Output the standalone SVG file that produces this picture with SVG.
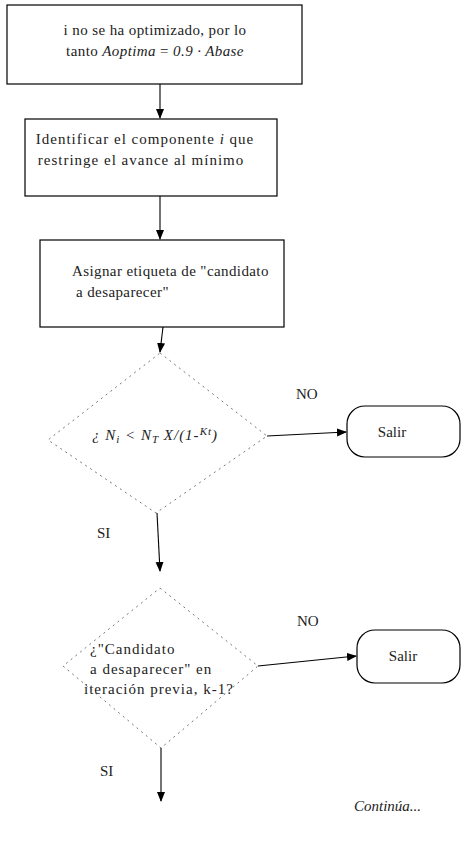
<svg xmlns="http://www.w3.org/2000/svg" width="470" height="841" viewBox="0 0 470 841">
<defs>
<marker id="ah" markerWidth="10" markerHeight="10" refX="9" refY="5" orient="auto" markerUnits="userSpaceOnUse">
<path d="M0,1 L10,5 L0,9 z" fill="#000"/>
</marker>
<style>
.box{fill:#fff;stroke:#000;stroke-width:1.2}
.dia{fill:none;stroke:#777;stroke-width:1;stroke-dasharray:2 4}
text{font-family:'Liberation Serif','Times New Roman','DejaVu Serif',serif;font-size:15px;fill:#222}
.i{font-style:italic}
.c{stroke:#000;stroke-width:1.1;fill:none;marker-end:url(#ah)}
</style>
</defs>
<rect width="470" height="841" fill="#fff"/>
<g id="n1">
<rect class="box" x="7" y="5" width="295" height="79"/>
<text x="155" y="35" text-anchor="middle" letter-spacing="0.4">i no se ha optimizado, por lo</text>
<text x="155" y="56" text-anchor="middle" letter-spacing="0.4">tanto <tspan class="i">Aoptima</tspan> = <tspan class="i">0.9 · Abase</tspan></text>
</g>
<g id="n2">
<rect class="box" x="25" y="119" width="252" height="77"/>
<text x="145" y="144" text-anchor="middle" font-size="16" letter-spacing="1">Identificar el componente <tspan class="i">i</tspan> que</text>
<text x="141" y="165" text-anchor="middle" font-size="16" letter-spacing="1">restringe el avance al mínimo</text>
</g>
<g id="n3">
<rect class="box" x="40" y="240" width="244" height="87"/>
<text x="72" y="276" letter-spacing="0.4">Asignar etiqueta de "candidato</text>
<text x="76" y="297" letter-spacing="0.4">a desaparecer"</text>
</g>
<g id="d1">
<polygon class="dia" points="160,353 267,436 156,513 48,440"/>
<text class="i" x="155" y="440" text-anchor="middle" font-size="16" letter-spacing="1">¿ N<tspan font-size="11" dy="3">i</tspan><tspan dy="-3"> &lt; N</tspan><tspan font-size="11" dy="3">T</tspan><tspan dy="-3"> X/(1-</tspan><tspan font-size="11" dy="-5">Kt</tspan><tspan dy="5">)</tspan></text>
</g>
<g id="s1">
<rect class="box" x="347" y="406" width="113" height="51" rx="18"/>
<text x="392" y="437" text-anchor="middle">Salir</text>
</g>
<g id="d2">
<polygon class="dia" points="160,588 258,666 161,748 63,666"/>
<text x="90" y="654" letter-spacing="1">¿"Candidato</text>
<text x="90" y="674" letter-spacing="1">a desaparecer" en</text>
<text x="84" y="694" letter-spacing="1">iteración previa, k-1?</text>
</g>
<g id="s2">
<rect class="box" x="357" y="630" width="103" height="53" rx="18"/>
<text x="403" y="661" text-anchor="middle">Salir</text>
</g>
<g id="labels">
<text x="296" y="399">NO</text>
<text x="97" y="538">SI</text>
<text x="297" y="626">NO</text>
<text x="100" y="776">SI</text>
<text class="i" x="354" y="811" font-size="13">Continúa...</text>
</g>
<g id="connectors">
<path class="c" d="M160,84 V118"/>
<path class="c" d="M160,196 V239"/>
<path class="c" d="M163,327 L160,352"/>
<path class="c" d="M267,436 L346,432"/>
<path class="c" d="M157,513 L160,571"/>
<path class="c" d="M258,666 L356,656"/>
<path class="c" d="M161,748 V801"/>
</g>
</svg>
